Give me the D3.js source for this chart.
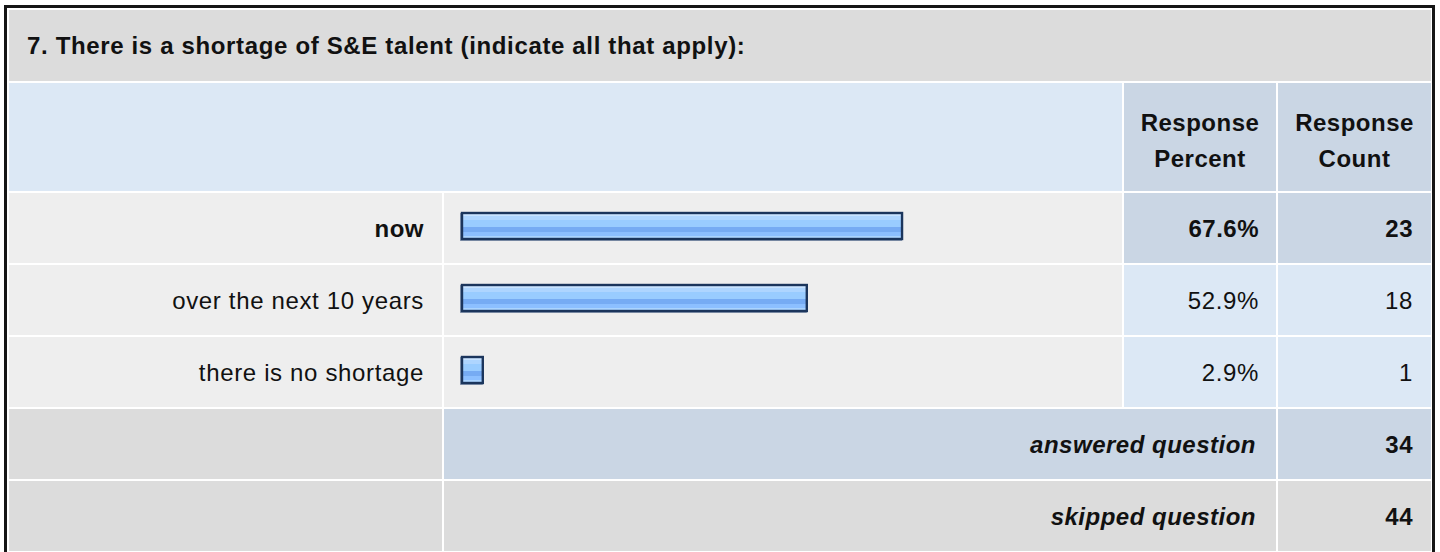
<!DOCTYPE html>
<html>
<head>
<meta charset="utf-8">
<script src="https://cdn.jsdelivr.net/npm/d3@7"></script>
<style>
  html, body { margin: 0; padding: 0; background: #fff; }
  svg { display: block; }
  text { font-family: "Liberation Sans", Arial, Helvetica, sans-serif; font-size: 24px; letter-spacing: 0.5px; fill: #111; }
  text.normal { letter-spacing: 0.65px; }
  text.title { letter-spacing: 0.65px; }
</style>
</head>
<body>
<div id="chart"></div>
<script>
// ---- data ----
const questionTitle = "7. There is a shortage of S&E talent (indicate all that apply):";
const choices = ["now", "over the next 10 years", "there is no shortage"];
const percents = [67.6, 52.9, 2.9];
const counts = [23, 18, 1];
const headerLabels = [["Response", "Percent"], ["Response", "Count"]];
const summaryLabels = ["answered question", "skipped question"];
const summaryCounts = [34, 44];

// ---- layout ----
const W = 1440, H = 552;
const colors = {
  title: "#dcdcdc", header: "#dce8f5", dark: "#cad6e4", row: "#eeeeee",
  border: "#151515", barStroke: "#1b355c", barShadow: "#8e9db3"
};
const colLabel = [9, 442], colBar = [444, 1122], colPct = [1124, 1276], colCnt = [1278, 1431];
const maxIdx = percents.indexOf(d3.max(percents));

const svg = d3.select("#chart").append("svg").attr("width", W).attr("height", H);

// bar gradient
const defs = svg.append("defs");
const grad = defs.append("linearGradient").attr("id", "barGrad").attr("x1", 0).attr("y1", 0).attr("x2", 0).attr("y2", 1);
[[0, "#c8e3ff"], [0.13, "#c8e3ff"], [0.13, "#aed5ff"], [0.26, "#aed5ff"], [0.26, "#99ccff"], [0.55, "#99ccff"],
 [0.55, "#76abf3"], [0.74, "#76abf3"], [0.74, "#8cbfff"], [0.88, "#8cbfff"], [0.88, "#aad4ff"], [1, "#aad4ff"]]
  .forEach(([o, c]) => grad.append("stop").attr("offset", o).attr("stop-color", c));

// outer border
svg.append("rect").attr("x", 5.5).attr("y", 6.5).attr("width", 1428).attr("height", 700)
  .attr("fill", "#fff").attr("stroke", colors.border).attr("stroke-width", 3);

// title
svg.append("rect").attr("x", colLabel[0]).attr("y", 10).attr("width", colCnt[1] - colLabel[0]).attr("height", 71).attr("fill", colors.title);
svg.append("text").attr("class", "title").attr("x", 27).attr("y", 54).attr("font-weight", "bold").text(questionTitle);

// header row
const hdrY = 83, hdrH = 108;
svg.append("rect").attr("x", colLabel[0]).attr("y", hdrY).attr("width", colBar[1] - colLabel[0]).attr("height", hdrH).attr("fill", colors.header);
[colPct, colCnt].forEach((c, i) => {
  svg.append("rect").attr("x", c[0]).attr("y", hdrY).attr("width", c[1] - c[0]).attr("height", hdrH).attr("fill", colors.dark);
  headerLabels[i].forEach((t, j) => {
    svg.append("text").attr("x", (c[0] + c[1]) / 2).attr("y", 131 + j * 36)
      .attr("text-anchor", "middle").attr("font-weight", "bold").text(t);
  });
});

// rows
const rowKeys = choices.concat(summaryLabels);
const y = d3.scaleBand().domain(rowKeys).range([193, 551]).paddingInner(2 / 72);
const x = d3.scaleLinear().domain([0, 100]).range([4, 652]);
const barX = 461, barH = 28, bh = y.bandwidth();

choices.forEach((c, i) => {
  const y0 = y(c), bold = i === maxIdx;
  const cls = bold ? null : "normal";
  const g = svg.append("g");
  g.append("rect").attr("x", colLabel[0]).attr("y", y0).attr("width", colLabel[1] - colLabel[0]).attr("height", bh).attr("fill", colors.row);
  g.append("rect").attr("x", colBar[0]).attr("y", y0).attr("width", colBar[1] - colBar[0]).attr("height", bh).attr("fill", colors.row);
  g.append("rect").attr("x", colPct[0]).attr("y", y0).attr("width", colPct[1] - colPct[0]).attr("height", bh).attr("fill", bold ? colors.dark : colors.header);
  g.append("rect").attr("x", colCnt[0]).attr("y", y0).attr("width", colCnt[1] - colCnt[0]).attr("height", bh).attr("fill", bold ? colors.dark : colors.header);
  const ty = y0 + bh / 2 + 9;
  g.append("text").attr("class", cls).attr("x", 424).attr("y", ty).attr("text-anchor", "end").attr("font-weight", bold ? "bold" : null).text(c);
  g.append("text").attr("class", cls).attr("x", 1259).attr("y", ty).attr("text-anchor", "end").attr("font-weight", bold ? "bold" : null).text(percents[i].toFixed(1) + "%");
  g.append("text").attr("class", cls).attr("x", 1413).attr("y", ty).attr("text-anchor", "end").attr("font-weight", bold ? "bold" : null).text(counts[i]);
  // bar
  const by = y0 + 19, bw = x(percents[i]);
  g.append("rect").attr("x", barX - 1).attr("y", by + 1).attr("width", bw).attr("height", barH).attr("fill", colors.barShadow);
  g.append("rect").attr("x", barX + 1).attr("y", by + 1).attr("width", bw - 2).attr("height", barH - 2)
    .attr("fill", "url(#barGrad)").attr("stroke", colors.barStroke).attr("stroke-width", 2.4);
});

// summary rows
summaryLabels.forEach((s, i) => {
  const y0 = y(s);
  const mid = i === 0 ? colors.dark : colors.title;
  svg.append("rect").attr("x", colLabel[0]).attr("y", y0).attr("width", colLabel[1] - colLabel[0]).attr("height", bh).attr("fill", colors.title);
  svg.append("rect").attr("x", colBar[0]).attr("y", y0).attr("width", colPct[1] - colBar[0]).attr("height", bh).attr("fill", mid);
  svg.append("rect").attr("x", colCnt[0]).attr("y", y0).attr("width", colCnt[1] - colCnt[0]).attr("height", bh).attr("fill", mid);
  const ty = y0 + bh / 2 + 9;
  svg.append("text").attr("x", 1256).attr("y", ty).attr("text-anchor", "end").attr("font-weight", "bold").attr("font-style", "italic").text(s);
  svg.append("text").attr("x", 1413).attr("y", ty).attr("text-anchor", "end").attr("font-weight", "bold").text(summaryCounts[i]);
});
</script>
</body>
</html>
